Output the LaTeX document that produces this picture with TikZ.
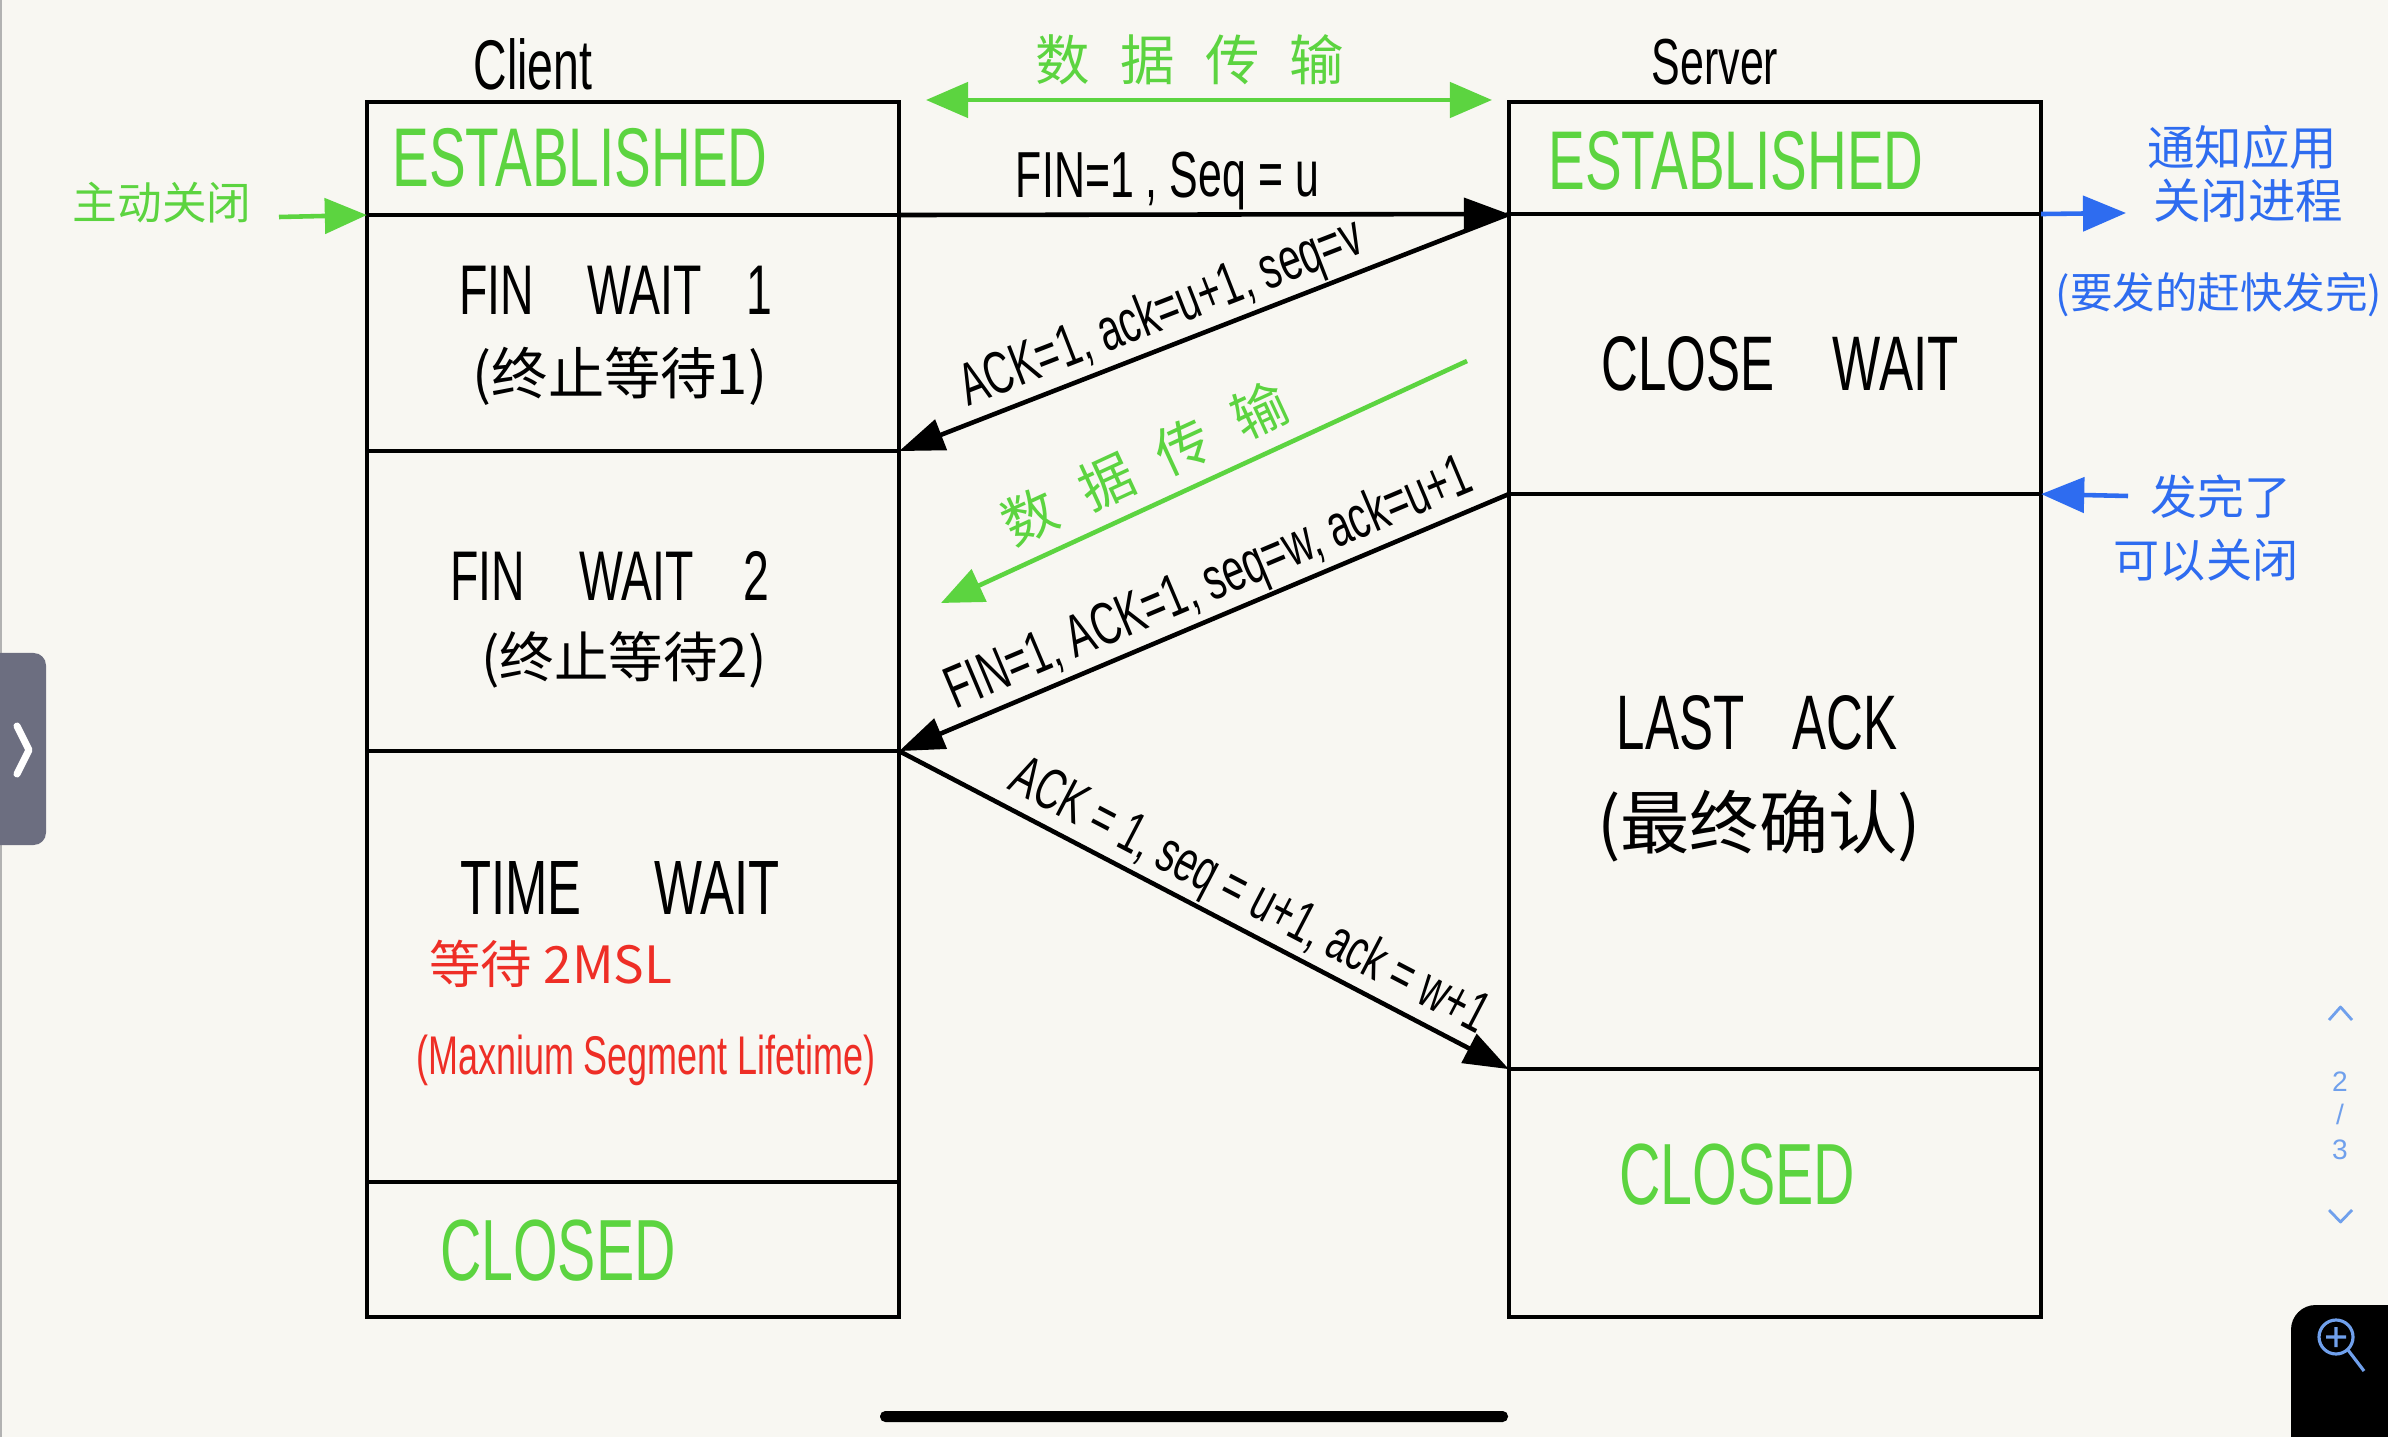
\documentclass[tikz,border=0pt]{standalone}
\usepackage{fontspec}
\usetikzlibrary{arrows.meta}
\newfontfamily\hand{Liberation Sans}[FakeStretch=0.66]
\newfontfamily\cjk{Noto Sans CJK SC}
\newfontfamily\uifont{Liberation Sans}
\newcommand\setfs[1]{\fontsize{#1}{#1}\selectfont}
\definecolor{paper}{RGB}{248,247,242}
\definecolor{hgreen}{RGB}{92,212,64}
\definecolor{hblue}{RGB}{46,108,240}
\definecolor{hred}{RGB}{238,46,38}
\definecolor{uiblue}{RGB}{112,160,236}
\definecolor{tabgrey}{RGB}{108,110,128}
\tikzset{
  stbox/.style={draw=black, line width=1.25pt, inner sep=0pt, outer sep=0pt, minimum width=5.32cm},
  tx/.style={inner sep=0pt, outer sep=0pt},
  hw/.style={font=\hand\setfs{#1}},
  cj/.style={font=\cjk\setfs{#1}},
  arr/.style={-{Triangle[length=0.45cm,width=0.32cm]}, line width=1.3pt},
  garr/.style={hgreen, line width=1.3pt, -{Triangle[length=0.42cm,width=0.35cm]}},
  gdarr/.style={hgreen, line width=1.3pt, {Triangle[length=0.42cm,width=0.35cm]}-{Triangle[length=0.42cm,width=0.35cm]}},
  barr/.style={hblue, line width=1.3pt, -{Triangle[length=0.43cm,width=0.35cm]}},
  lab/.style={inner sep=0.5pt, sloped, above},
}
\begin{document}
\begin{tikzpicture}[x=0.01cm, y=-0.01cm]
\useasboundingbox (0,0) rectangle (2388,1437);
\fill[paper] (0,0) rectangle (2388,1437);
\draw[gray!60, line width=0.6pt] (1,0) -- (1,1437);

% client column
\node[stbox, minimum height=1.13cm] (cEst) at (633,158.5) {};
\node[stbox, minimum height=2.36cm] (cFw1) at (633,333) {};
\node[stbox, minimum height=3.00cm] (cFw2) at (633,601) {};
\node[stbox, minimum height=4.31cm] (cTw)  at (633,966.5) {};
\node[stbox, minimum height=1.35cm] (cCl)  at (633,1249.5) {};
% server column
\node[stbox, minimum height=1.12cm] (sEst) at (1775,158) {};
\node[stbox, minimum height=2.80cm] (sCw)  at (1775,354) {};
\node[stbox, minimum height=5.75cm] (sLa)  at (1775,781.5) {};
\node[stbox, minimum height=2.48cm] (sCl)  at (1775,1193) {};

% column titles
\node[tx, hw=20] (tClient) at (533,64) {Client};
\node[tx, hw=18.5] (tServer) at (1715,62) {Server};

% data transfer (top)
\coordinate (dL) at (926,100);
\coordinate (dR) at (1492,100);
\draw[gdarr] (dL) -- (dR);
\node[tx, cj=15.5, text=hgreen] (tData1) at (1190,60) {数\hspace{0.3cm}据\hspace{0.3cm}传\hspace{0.3cm}输};

% state labels
\node[tx, hw=23.7, text=hgreen] (tcEst) at (580,158) {ESTABLISHED};
\node[tx, hw=23.7, text=hgreen] (tsEst) at (1736,161) {ESTABLISHED};
\node[tx, hw=20] (tFw1) at (616,290) {FIN\hspace{0.53cm}WAIT\hspace{0.45cm}1};
\node[tx, cj=16] (tFw1c) at (620,376) {(终止等待1)};
\node[tx, hw=20] (tFw2) at (610,576) {FIN\hspace{0.54cm}WAIT\hspace{0.5cm}2};
\node[tx, cj=15.5] (tFw2c) at (624,660) {(终止等待2)};
\node[tx, hw=21.9] (tTw) at (620,888) {TIME\hspace{0.73cm}WAIT};
\node[tx, cj=14.6, text=hred] (tMsl) at (551,964) {等待 2MSL};
\node[tx, hw=15.5, text=hred] (tMslf) at (646,1060) {(Maxnium Segment Lifetime)};
\node[tx, hw=24.7, text=hgreen] (tcCl) at (558,1251) {CLOSED};
\node[tx, hw=22] (tCw) at (1780,364) {CLOSE\hspace{0.58cm}WAIT};
\node[tx, hw=22] (tLa) at (1757,723) {LAST\hspace{0.48cm}ACK};
\node[tx, cj=19.7] (tLac) at (1759,826) {(最终确认)};
\node[tx, hw=24.7, text=hgreen] (tsCl) at (1737,1175) {CLOSED};

% active close
\coordinate (aL) at (279,217);
\draw[garr] (aL) -- (cEst.south west);
\node[tx, cj=12.7, text=hgreen] (tActive) at (162,203) {主动关闭};

% blue notes
\coordinate (bR) at (2126,213);
\draw[barr] (sEst.south east) -- (bR);
\node[tx, cj=13.5, text=hblue] (tNote1) at (2242,147) {通知应用};
\node[tx, cj=13.5, text=hblue] (tNote2) at (2248,201) {关闭进程};
\node[tx, cj=12.1, text=hblue] (tNote3) at (2219,295) {(要发的赶快发完)};
\coordinate (bL) at (2128,496);
\draw[barr] (bL) -- (sCw.south east);
\node[tx, cj=13.3, text=hblue] (tNote4) at (2221,497) {发完了};
\node[tx, cj=13.1, text=hblue] (tNote5) at (2206,560) {可以关闭};

% messages
\draw[arr] (cEst.south east) -- node[lab, pos=0.44, hw=18.5] (m1) {FIN=1 , Seq = u} (sEst.south west);
\draw[arr] (sEst.south west) -- node[lab, pos=0.55, hw=17] (m2) {ACK=1, ack=u+1, seq=v} (cFw1.south east);
\draw[arr] (sCw.south west) -- node[lab, pos=0.47, hw=17] (m3) {FIN=1, ACK=1, seq=w, ack=u+1} (cFw2.south east);
\draw[arr] (cFw2.south east) -- node[lab, pos=0.55, hw=16.5] (m4) {ACK = 1, seq = u+1, ack = w+1} (sLa.south west);

% data transfer (diagonal)
\coordinate (gA) at (1467,361);
\coordinate (gB) at (941,603);
\draw[garr] (gA) -- node[lab, pos=0.58, cj=15.5, text=hgreen, inner sep=4pt] (tData2) {数\hspace{0.3cm}据\hspace{0.3cm}传\hspace{0.3cm}输} (gB);

% screen chrome
\fill[tabgrey, rounded corners=3.5pt] (-30,653) rectangle (46,845);
\draw[white, line width=2pt, line cap=round, line join=round] (17,726) -- (29,750) -- (17,774);
\fill[black, rounded corners=1.5pt] (880,1411) rectangle (1508,1422);
\fill[black, rounded corners=7pt] (2291,1305) rectangle (2430,1480);
\draw[uiblue, line width=0.9pt] (2336,1337) circle (17);
\draw[uiblue, line width=0.9pt] (2326,1337) -- (2346,1337) (2336,1327) -- (2336,1347) (2348,1350) -- (2364,1371);
\draw[uiblue, line width=0.8pt, line join=round] (2329,1020) -- (2340.5,1007) -- (2352,1020);
\draw[uiblue, line width=0.8pt, line join=round] (2329,1210) -- (2340.5,1222) -- (2352,1210);
\node[tx, font=\uifont\setfs{8}, text=uiblue] (pg2) at (2340,1082) {2};
\node[tx, font=\uifont\setfs{8}, text=uiblue] (pgs) at (2340,1114) {/};
\node[tx, font=\uifont\setfs{8}, text=uiblue] (pg3) at (2340,1150) {3};
\end{tikzpicture}
\end{document}
